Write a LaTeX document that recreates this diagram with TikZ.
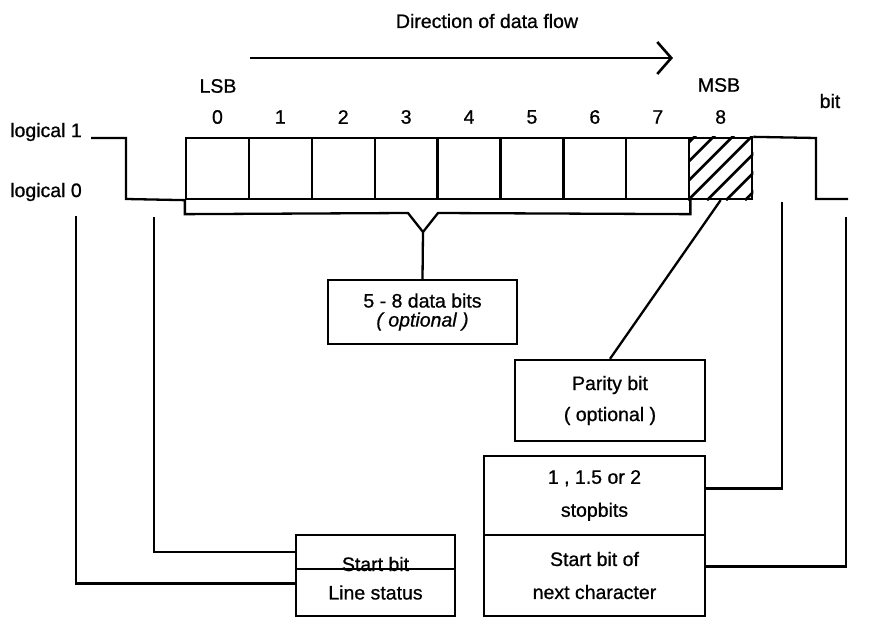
\documentclass[tikz,border=0pt]{standalone}
\usepackage{fontspec}
\setmainfont{Liberation Sans}[FakeBold=0.8, ItalicFeatures={FakeBold=0.8}]
\usetikzlibrary{arrows.meta,calc}
\begin{document}
\begin{tikzpicture}[x=1pt,y=-1pt,
  line width=2.3pt, line join=miter,
  every node/.style={font=\fontsize{19.5}{21}\selectfont, inner sep=0pt},
  cell/.style={draw, minimum width=62.9pt, minimum height=61pt},
  tbox/.style={draw, align=center},
  hatchline/.style={line width=2.6pt},
  flow/.style={line width=2.6pt, -{Straight Barb[length=14pt,width=32pt]}}
]
\useasboundingbox (0,0) rectangle (886,618);

% bit cells
\foreach \i in {0,...,8}{
  \node[cell] (c\i) at ({217.45+62.9*\i},168.5) {};
  \node (n\i) at ({217.45+62.9*\i},117) {\i};
}
% hatch of parity cell
\begin{scope}
  \clip (c8.south west) rectangle (c8.north east);
  \foreach \k in {-57,-38,...,57}
    \draw[hatchline] ([xshift=\k pt]c8.south west) -- ++(75,-75);
\end{scope}

% labels
\node (dir) at (487,21) {Direction of data flow};
\coordinate (a0) at (250,58);
\coordinate (a1) at (673,58);
\draw[flow] (a0) -- (a1);
\node (lsb) at (218,86) {LSB};
\node (msb) at (719,85) {MSB};
\node (bitl) at (830,101) {bit};
\node (l1) at (46,132) {logical 1};
\node (l0) at (46,192) {logical 0};

% waveform
\coordinate (w0) at (91,138);
\coordinate (w1) at (848,199);
\draw (w0) -- (126,138) -- (126,199) -- (c0.south west);
\draw (c8.north east) -- (816,138) -- (816,199) -- (w1);

% bracket for data bits
\coordinate (vt) at (423,232);
\draw (c0.south west) -- ++(0,14) -- (408,213) -- (vt) -- (438,213)
      -- ($(c7.south east)+(0,14)$) -- (c7.south east);

% boxes
\node[tbox, minimum width=189pt, minimum height=64pt] (data) at (422.5,312)
  {5 - 8 data bits\\[-2pt]\textit{( optional )}};
\draw (vt) -- (data.north);

\node[tbox, minimum width=190pt, minimum height=81pt] (par) at (610,400.5)
  {Parity bit\\[10pt]( optional )};
\draw (c8.south) -- (par.north);

\node[tbox, minimum width=221pt, minimum height=79pt] (stop) at (594.5,495.5)
  {1 , 1.5 or 2\\[12pt]stopbits};
\node[tbox, minimum width=221pt, minimum height=81pt] (next) at (594.5,575.5)
  {Start bit of\\[12pt]next character};
\coordinate (se) at (782,202);
\draw ([yshift=7pt]stop.east) -| (se);
\coordinate (ne) at (846,217);
\draw ([yshift=9pt]next.east) -| (ne);

\node[anchor=base] (sbt) at (375.5,571) {Start bit};
\node[draw, minimum width=159pt, minimum height=34pt] (sb) at (375.5,552) {};
\node[draw, minimum width=159pt, minimum height=47pt] (ls) at (375.5,592.5) {Line status};
\coordinate (sv) at (154,217);
\draw (sb.west) -| (sv);
\coordinate (lv) at (76,216);
\draw ([yshift=9pt]ls.west) -| (lv);
\end{tikzpicture}
\end{document}
